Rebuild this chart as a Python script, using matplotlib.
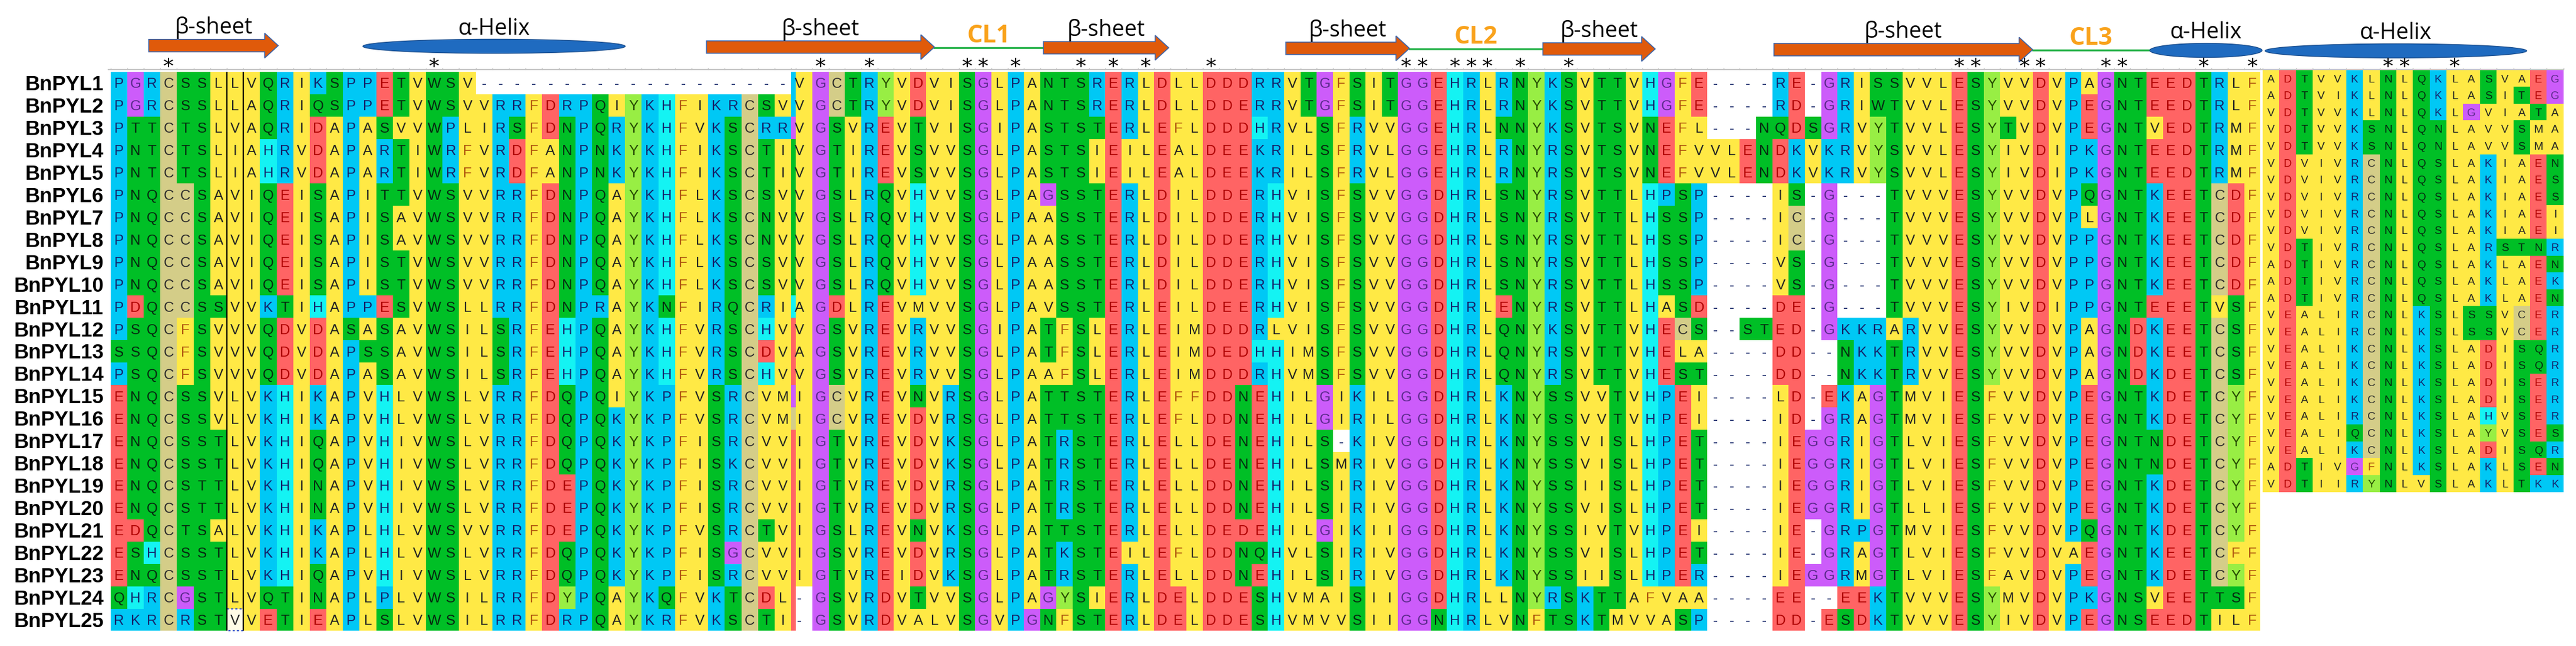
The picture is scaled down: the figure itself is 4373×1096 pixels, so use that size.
import numpy as np
import matplotlib.pyplot as plt
from matplotlib import patches
from matplotlib.colors import ListedColormap

# ---- data -------------------------------------------------------------
names = ["BnPYL1", "BnPYL2", "BnPYL3", "BnPYL4", "BnPYL5", "BnPYL6", "BnPYL7",
         "BnPYL8", "BnPYL9", "BnPYL10", "BnPYL11", "BnPYL12", "BnPYL13",
         "BnPYL14", "BnPYL15", "BnPYL16", "BnPYL17", "BnPYL18", "BnPYL19",
         "BnPYL20", "BnPYL21", "BnPYL22", "BnPYL23", "BnPYL24", "BnPYL25"]

# main alignment block, 131 columns (spaces only split the text for reading)
rows = [
    "PGRCSSLLVQRIK SPPETVWSV---------- --------- VGCTRYVDVIS GLPANTSRERLDLLDDDRR VTGFSITGGEHRLRNYKSVT TVHGFE----RE-GRISSVV LESYVVDVPAGNTEEDTRL F",
    "PGRCSSLLAQRIQ SPPETVWSVVRRFDRPQIY KHFIKRCSV VGCTRYVDVIS GLPANTSRERLDLLDDERR VTGFSITGGEHRLRNYKSVT TVHGFE----RD-GRIWTVV LESYVVDVPEGNTEEDTRL F",
    "PTTCTSLVAQRID APASVVWPLIRSFDNPQRY KHFVKSCRR VGSVREVTVIS GIPASTSTERLEFLDDDHR VLSFRVVGGEHRLNNYKSVT SVNEFL---NQDSGRVYTVV LESYTVDVPEGNTVEDTRM F",
    "PNTCTSLIAHRVD APARTIWRFVRDFANPNKY KHFIKSCTI VGTIREVSVVS GLPASTSIEILEALDEEKR ILSFRVLGGEHRLRNYRSVT SVNEFVVLENDKVKRVYSVV LESYIVDIPKGNTEEDTRM F",
    "PNTCTSLIAHRVD APARTIWRFVRDFANPNKY KHFIKSCTI VGTIREVSVVS GLPASTSIEILEALDEEKR ILSFRVLGGEHRLRNYRSVT SVNEFVVLENDKVKRVYSVV LESYIVDIPKGNTEEDTRM F",
    "PNQCCSAVIQEIS APITTVWSVVRRFDNPQAY KHFLKSCSV VGSLRQVHVVS GLPAGSSTERLDILDDERH VISFSVVGGDHRLSNYRSVT TLHPSP----IS-G---TVV VESYVVDVPQGNTKEETCD F",
    "PNQCCSAVIQEIS APISAVWSVVRRFDNPQAY KHFLKSCNV VGSLRQVHVVS GLPAASSTERLDILDDERH VISFSVVGGDHRLSNYRSVT TLHSSP----IC-G---TVV VESYVVDVPLGNTKEETCD F",
    "PNQCCSAVIQEIS APISAVWSVVRRFDNPQAY KHFLKSCNV VGSLRQVHVVS GLPAASSTERLDILDDERH VISFSVVGGDHRLSNYRSVT TLHSSP----IC-G---TVV VESYVVDVPPGNTKEETCD F",
    "PNQCCSAVIQEIS APISTVWSVVRRFDNPQAY KHFLKSCSV VGSLRQVHVVS GLPAASSTERLDILDDERH VISFSVVGGDHRLSNYRSVT TLHSSP----VS-G---TVV VESYVVDVPPGNTKEETCD F",
    "PNQCCSAVIQEIS APISTVWSVVRRFDNPQAY KHFLKSCSV VGSLRQVHVVS GLPAASSTERLDILDDERH VISFSVVGGDHRLSNYRSVT TLHSSP----VS-G---TVV VESYVVDVPPGNTKEETCD F",
    "PDQCCSSVVKTIH APPESVWSLLRRFDNPRAY KNFIRQCRI AGDLREVMVVS GLPAVSSTERLEILDEERH VISFSVVGGDHRLENYRSVT TLHASD----DE-G---TVV VESYIVDIPPGNTEEETVS F",
    "PSQCFSVVVQDVD ASASAVWSILSRFEHPQAY KHFVRSCHV VGSVREVRVVS GIPATFSLERLEIMDDDRL VISFSVVGGDHRLQNYKSVT TVHECS--STED-GKKRARV VESYVVDVPAGNDKEETCS F",
    "SSQCFSVVVQDVD APSSAVWSILSRFEHPQAY KHFVRSCDV AGSVREVRVVS GLPATFSLERLEIMDEDHH IMSFSVVGGDHRLQNYRSVT TVHELA----DD--NKKTRV VESYVVDVPAGNDKEETCS F",
    "PSQCFSVVVQDVD APASAVWSILSRFEHPQAY KHFVRSCHV VGSVREVRVVS GLPAAFSLERLEIMDDDRH VMSFSVVGGDHRLQNYRSVT TVHEST----DD--NKKTRV VESYVVDVPAGNDKDETCS F",
    "ENQCSSVLVKHIK APVHLVWSLVRRFDQPQIY KPFVSRCVM IGCVREVNVRS GLPATTSTERLEFFDDNEH ILGIKILGGDHRLKNYSSVV TVHPEI----LD-EKAGTMV IESFVVDVPEGNTKDETCY F",
    "ENQCSSVLVKHIK APVHLVWSLVRRFDQPQKY KPFVSRCVM IGCVREVDVRS GLPATTSTERLEFLDDNEH ILGIRILGGDHRLKNYSSVV TVHPEI----ID-GRAGTMV IESFVVDVPEGNTKDETCY F",
    "ENQCSSTLVKHIQ APVHIVWSLVRRFDQPQKY KPFISRCVV IGTVREVDVKS GLPATRSTERLELLDENEH ILS-KIVGGDHRLKNYSSVI SLHPET----IEGGRIGTLV IESFVVDVPEGNTNDETCY F",
    "ENQCSSTLVKHIQ APVHIVWSLVRRFDQPQKY KPFISKCVV IGTVREVDVKS GLPATRSTERLELLDENEH ILSMRIVGGDHRLKNYSSVI SLHPET----IEGGRIGTLV IESFVVDVPEGNTNDETCY F",
    "ENQCSTTLVKHIN APVHIVWSLVRRFDEPQKY KPFISRCVV IGTVREVDVRS GLPATRSTERLELLDDNEH ILSIRIVGGDHRLKNYSSII SLHPET----IEGGRIGTLV IESFVVDVPEGNTKDETCY F",
    "ENQCSTTLVKHIN APVHIVWSLVRRFDEPQKY KPFISRCVV IGTVREVDVRS GLPATRSTERLELLDDNEH ILSIRIVGGDHRLKNYSSVI SLHPET----IEGGRIGTLL IESFVVDVPEGNTKDETCY F",
    "EDQCTSALVKHIK APLHLVWSVVRRFDEPQKY KPFVSRCTV IGSLREVNVKS GLPATTSTERLELLDEDEH ILGIKIIGGDHRLKNYSSIV TVHPEI----IE-GRPGTMV IESFVVDVPQGNTKDETCY F",
    "ESHCSSTLVKHIK APLHLVWSLVRRFDQPQKY KPFISGCVV IGSVREVDVRS GLPATKSTEILEFLDDNQH VLSIRIVGGDHRLKNYSSVI SLHPET----IE-GRAGTLV IESFVVDVAEGNTKEETCF F",
    "ENQCSSTLVKHIQ APVHIVWSLVRRFDQPQKY KPFISRCVV IGTVREIDVKS GLPATRSTERLELLDDNEH ILSIRIVGGDHRLKNYSSII SLHPER----IEGGRMGTLV IESFAVDVPEGNTKDETCY F",
    "QHRCGSTLVQTIN APLPLVWSILRRFDYPQAY KQFVKTCDL -GSVRDVTVVS GLPAGYSIERLDELDDESH VMAISIIGGDHRLLNYRSKT TAFVAA----EE--EEKTVV VESYMVDVPKGNSVEETTS F",
    "RKRCRSTVVETIE APLSLVWSILRRFDRPQAY KRFVKSCTI -GSVRDVALVS GVPGNFSTERLDELDDESH VMVVSIIGGNHRLVNFTSKT MVVASP----DD-ESDKTVV VESYIVDVPEGNSEEDTIL F",
]
rows = [r.replace(" ", "") for r in rows]

# squeezed column between columns 41 and 42 (one residue per sequence)
strip = "RRGSSSSSSSHEEEGCEEEEEEEEE"

# last 18 columns, pasted as a separate (shorter) block on the right
tail = [
    "ADTVVKLNLQKLASVAEG", "ADTVIKLNLQKLASITEG", "VDTVVKLNLQKLGVIATA",
    "VDTVVKSNLQNLAVVSMA", "VDTVVKSNLQNLAVVSMA", "VDVIVRCNLQSLAKIAEN",
    "VDVIVRCNLQSLAKIAES", "VDVIVRCNLQSLAKIAES", "VDVIVRCNLQSLAKIAEI",
    "VDVIVRCNLQSLAKIAEI", "VDTIVRCNLQSLARSTNR", "ADTIVRCNLQSLAKLAEN",
    "ADTIVRCNLQSLAKLAEK", "ADTIVRCNLQSLAKLAEN", "VEALIRCNLKSLSSVCER",
    "VEALIRCNLKSLSSVCER", "VEALIKCNLKSLADISQR", "VEALIKCNLKSLADISQR",
    "VEALIKCNLKSLADISER", "VEALIKCNLKSLADISER", "VEALIRCNLKSLAHVSER",
    "VEALIQCNLKSLAYVSES", "VEALIKCNLKSLADISQR", "ADTIVGFNLKSLAKLSEN",
    "VDTIIRYNLVSLAKLTKK",
]

# conserved columns marked with '*'
stars = [3, 19, 42, 45, 51, 52, 54, 58, 60, 62, 66, 78, 79, 81, 82, 83, 85, 88,
         112, 113, 116, 117, 121, 122, 127, 130]
tail_stars = [7, 8, 11]

# secondary structure (kind, label, first column, last column)
struct = [
    ("sheet", "β-sheet", 2.3, 10.1),
    ("helix", "α-Helix", 15.2, 31.0),
    ("sheet", "β-sheet", 35.9, 49.5),
    ("loop", "CL1", 49.5, 56.2),
    ("sheet", "β-sheet", 56.2, 63.9),
    ("sheet", "β-sheet", 71.1, 78.7),
    ("loop", "CL2", 78.7, 86.9),
    ("sheet", "β-sheet", 86.9, 93.8),
    ("sheet", "β-sheet", 101.1, 117.0),
    ("loop", "CL3", 117.0, 124.2),
    ("helix", "α-Helix", 124.2, 131.1),
]
tail_struct = [("helix", "α-Helix", 0.15, 15.8)]

picked = (24, 7)   # highlighted cell (row, column)
ruled = 7          # column framed by black lines

# ---- colours ----------------------------------------------------------
groups = ["hyd", "pol", "pos", "his", "neg", "gly", "cys", "tyr", "gap"]
bg = {"hyd": "#FFE945", "pol": "#00BF26", "pos": "#00C8F5", "his": "#14F3F3",
      "neg": "#FF6464", "gly": "#CC5CFA", "cys": "#D4CD88", "tyr": "#98EE44",
      "gap": "#FFFFFF"}
ink = {"hyd": "#222222", "pol": "#062a10", "pos": "#14246b", "his": "#14246b",
       "neg": "#b00000", "gly": "#5b2a8c", "cys": "#2c2c2c", "tyr": "#254a00",
       "gap": "#1a2a6a"}
group_of = {"-": "gap", "H": "his", "G": "gly", "C": "cys", "Y": "tyr"}
for a in "AVLIMF":
    group_of[a] = "hyd"
for a in "STNQW":
    group_of[a] = "pol"
for a in "KRP":
    group_of[a] = "pos"
for a in "DE":
    group_of[a] = "neg"
cmap = ListedColormap([bg[g] for g in groups])

def letter_ink(a):
    if a == "F":
        return "#b0560e"
    return ink[group_of[a]]

# ---- layout (pixels) --------------------------------------------------
W, H = 4373, 1096
x0, w1, sw, w2 = 187.7, 28.18, 8.4, 27.62
top, rh = 121.7, 37.95
tx0, tw, ttop, th = 3841.0, 28.37, 118.5, 28.64
nrow = len(rows)
ncol = len(rows[0])

def colx(c):
    if c <= 41:
        return x0 + w1 * c
    return x0 + w1 * 41 + sw + w2 * (c - 41)

def tailx(c):
    return tx0 + tw * c

xe = [colx(c) for c in range(42)] + [colx(41) + sw + w2 * k for k in range(ncol - 41 + 1)]
ye = [top + rh * r for r in range(nrow + 1)]

fig = plt.figure(figsize=(W / 100, H / 100), dpi=100)
ax = fig.add_axes([0, 0, 1, 1])
ax.set_xlim(0, W)
ax.set_ylim(H, 0)
ax.axis("off")

grid = np.array([[groups.index(group_of[a]) for a in (r[:41] + s + r[41:])]
                 for r, s in zip(rows, strip)])
ax.pcolormesh(xe, ye, grid, cmap=cmap, vmin=-0.5, vmax=len(groups) - 0.5,
              shading="flat", edgecolors="none", antialiased=False, zorder=1)

txe = [tailx(c) for c in range(len(tail[0]) + 1)]
tye = [ttop + th * r for r in range(nrow + 1)]
tgrid = np.array([[groups.index(group_of[a]) for a in r] for r in tail])
ax.pcolormesh(txe, tye, tgrid, cmap=cmap, vmin=-0.5, vmax=len(groups) - 0.5,
              shading="flat", edgecolors="none", antialiased=False, zorder=1)

# highlighted cell
pr, pc = picked
ax.add_patch(patches.Rectangle((colx(pc), top + rh * pr), w1, rh, fc="#FFFBE6",
                               ec="#3050D0", lw=1.3, ls=(0, (2, 2)), zorder=2))
ax.vlines([colx(ruled), colx(ruled + 1)], top, top + rh * nrow, color="black",
          lw=1.7, zorder=3)

# residues
fam = ["Liberation Sans", "DejaVu Sans"]
fs_main, fs_tail = 17.5, 13.5
cap_main = 0.716 * fs_main * 100 / 72
cap_tail = 0.716 * fs_tail * 100 / 72
for r, seq in enumerate(rows):
    yb = top + rh * (r + 0.5) + cap_main / 2
    for c, a in enumerate(seq):
        if c <= 40:
            xc = x0 + w1 * (c + 0.5)
        else:
            xc = colx(c) + w2 / 2
        ax.text(xc, yb, a, ha="center", va="baseline", fontsize=fs_main,
                family=fam, color=letter_ink(a), zorder=4)
for r, seq in enumerate(tail):
    yb = ttop + th * (r + 0.5) + cap_tail / 2
    for c, a in enumerate(seq):
        ax.text(tailx(c) + tw / 2, yb, a, ha="center", va="baseline",
                fontsize=fs_tail, family=fam, color=letter_ink(a), zorder=4)

# sequence names
for r, n in enumerate(names):
    ax.text(176, top + rh * (r + 0.5) + 12.4, n, ha="right", va="baseline",
            fontsize=25, fontweight="bold", family=fam, color="black")

# ruler
ax.plot([184, 4352], [118.3, 118.3], color="#c4c4c4", lw=1.3, zorder=3)
ax.vlines(xe + txe, 114.5, 118.3, color="#c4c4c4", lw=1.0, zorder=3)

# conservation stars
for c in stars:
    w = w1 if c <= 40 else w2
    ax.text(colx(c) + w / 2, 124.5, "*", ha="center", va="baseline",
            fontsize=26, family="DejaVu Sans", color="black", zorder=5)
for c in tail_stars:
    ax.text(tailx(c) + tw / 2, 124.5, "*", ha="center", va="baseline",
            fontsize=26, family="DejaVu Sans", color="black", zorder=5)

# secondary structure track
def track_y(x):
    return 76.5 + 0.0024 * x

def draw_element(kind, label, xa, xb):
    yc = track_y((xa + xb) / 2)
    xm = (xa + xb) / 2
    if kind == "sheet":
        ax.add_patch(patches.FancyArrow(xa, yc, xb - xa, 0, width=21, head_width=42,
                                        head_length=23, length_includes_head=True,
                                        fc="#E05A0A", ec="#3E64A8", lw=1.2, zorder=3))
    elif kind == "helix":
        ax.add_patch(patches.Ellipse((xm, yc), xb - xa, 24, fc="#1F6BC0",
                                     ec="#1B4F8F", lw=1.0, zorder=3))
    else:
        ax.plot([xa, xb], [yc, yc], color="#27B24A", lw=2.4, zorder=2)
    if kind == "loop":
        ax.text(xm, yc - 9, label, ha="center", va="baseline", fontsize=30,
                fontweight="bold", family=["Open Sans", "DejaVu Sans"],
                color="#F9A21B", zorder=4)
    else:
        ax.text(xm, yc - 20, label, ha="center", va="baseline", fontsize=27,
                family=["Open Sans", "DejaVu Sans"], color="black", zorder=4)

for kind, label, a, b in struct:
    draw_element(kind, label, colx(a), colx(b))
for kind, label, a, b in tail_struct:
    draw_element(kind, label, tailx(a), tailx(b))

fig.savefig("out.png", dpi=100)
